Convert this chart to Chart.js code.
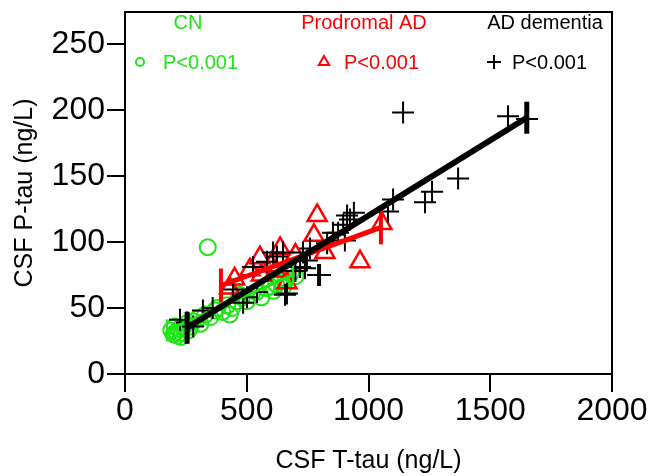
<!DOCTYPE html>
<html>
<head>
<meta charset="utf-8">
<script src="https://cdn.jsdelivr.net/npm/chart.js@4.4.1/dist/chart.umd.min.js"></script>
<style>
    html, body { margin: 0; padding: 0; background: #ffffff; }
    #wrap { width: 654px; height: 476px; }
</style>
</head>
<body>
<div id="wrap"><canvas id="chart" width="654" height="476"></canvas></div>
<script>
// group names and p values shown in the top legend
const groupNames = ['CN', 'Prodromal AD', 'AD dementia'];
const pLabels = ['P<0.001', 'P<0.001', 'P<0.001'];
const groupColors = ['rgb(30,230,20)', '#ff0000', '#000000'];

const xTicks = [0, 500, 1000, 1500, 2000];
const yTicks = [0, 50, 100, 150, 200, 250];

// CN (circles): T-tau, P-tau
const cnTtau = [190, 200, 205, 210, 215, 220, 230, 240, 250, 260, 270, 280, 300, 310, 330, 350, 370, 380, 400, 420,
    440, 460, 480, 500, 520, 540, 560, 580, 600, 620, 640, 660, 680, 700, 340, 430, 470, 610, 650, 230];
const cnPtau = [33, 30, 36, 32, 29, 34, 31, 35, 38, 33, 36, 40, 42, 38, 45, 43, 48, 50, 47, 52,
    50, 55, 58, 55, 60, 62, 58, 65, 66, 68, 70, 72, 76, 74, 96, 45, 60, 63, 66, 28];

// Prodromal AD (triangles)
const proTtau = [789, 776, 637, 554, 821, 965, 1055, 665, 513, 600, 450, 700, 430, 560, 620];
const proPtau = [120, 105, 95, 88, 92, 85, 114, 69, 79, 82, 72, 90, 65, 75, 78];

// AD dementia (crosses)
const adTtau = [255, 226, 280, 320, 360, 444, 485, 501, 542, 526, 583, 608, 624, 649, 657, 665, 700, 719, 731, 739,
    747, 760, 793, 801, 830, 854, 875, 896, 903, 912, 924, 940, 1080, 1101, 1142, 1232, 1261, 1368, 1573, 1651];
const adPtau = [39, 41, 36, 48, 50, 64, 54, 58, 62, 81, 85, 92, 89, 92, 60, 61, 78, 81, 92, 80,
    86, 95, 75, 75, 99, 107, 107, 113, 101, 120, 117, 122, 123, 132, 198, 130, 138, 148, 195, 193];

// regression lines (start, end)
const cnFitX = [172, 690];
const cnFitY = [33, 75];
const proFitX = [394, 1051];
const proFitY = [67, 111];
const adFitX = [255, 1650];
const adFitY = [35, 194];

function toPoints(xs, ys) {
    return xs.map((x, i) => ({ x: x, y: ys[i] }));
}

function fitLine(xs, ys, color, width, barLen) {
    return {
        type: 'line',
        data: toPoints(xs, ys),
        borderColor: color,
        borderWidth: width,
        pointStyle: 'line',
        rotation: 90,
        pointRadius: barLen,
        pointBorderColor: color,
        pointBorderWidth: width - 1,
        showLine: true,
        fill: false
    };
}

// box around the plot + legend text
const framePlugin = {
    id: 'frame',
    afterDraw(chart) {
        const ctx = chart.ctx;
        const a = chart.chartArea;
        ctx.save();
        ctx.strokeStyle = '#000';
        ctx.lineWidth = 2;
        ctx.strokeRect(a.left, a.top, a.right - a.left, a.bottom - a.top);

        const nameX = [188, 364, 545];
        const markX = [140, 324, 494];
        const pX = [163, 344, 512];
        const styles = ['circle', 'triangle', 'cross'];
        const radii = [4, 6, 7];
        ctx.font = '20px "Liberation Sans", Arial, sans-serif';
        ctx.textBaseline = 'middle';
        for (let i = 0; i < groupNames.length; i++) {
            ctx.fillStyle = groupColors[i];
            ctx.textAlign = 'center';
            ctx.fillText(groupNames[i], nameX[i], 23);
            ctx.textAlign = 'left';
            ctx.fillText(pLabels[i], pX[i], 63);
            ctx.strokeStyle = groupColors[i];
            ctx.fillStyle = 'rgba(0,0,0,0)';
            ctx.lineWidth = 2;
            Chart.helpers.drawPoint(ctx, { pointStyle: styles[i], radius: radii[i], rotation: 0, borderWidth: 2 }, markX[i], 62);
        }
        ctx.restore();
    }
};

const tickFont = { family: '"Liberation Sans", Arial, sans-serif', size: 32 };
const titleFont = { family: '"Liberation Sans", Arial, sans-serif', size: 25 };

new Chart(document.getElementById('chart'), {
    type: 'scatter',
    data: {
        datasets: [
            fitLine(adFitX, adFitY, '#000000', 6, 16),
            fitLine(proFitX, proFitY, '#ff0000', 5, 17),
            fitLine(cnFitX, cnFitY, groupColors[0], 3, 11),
            {
                data: toPoints(adTtau, adPtau),
                pointStyle: 'cross',
                pointRadius: 11,
                borderColor: '#000000',
                borderWidth: 2
            },
            {
                data: toPoints(proTtau, proPtau),
                pointStyle: 'triangle',
                pointRadius: 11,
                borderColor: '#ff0000',
                backgroundColor: 'rgba(0,0,0,0)',
                borderWidth: 2.5
            },
            {
                data: toPoints(cnTtau, cnPtau),
                pointStyle: 'circle',
                pointRadius: 8,
                borderColor: groupColors[0],
                backgroundColor: 'rgba(0,0,0,0)',
                borderWidth: 2
            }
        ]
    },
    options: {
        responsive: false,
        animation: false,
        events: [],
        layout: { autoPadding: false, padding: { top: 12, right: 42, left: 0, bottom: 0 } },
        plugins: {
            legend: { display: false },
            tooltip: { enabled: false }
        },
        scales: {
            x: {
                type: 'linear',
                min: 0,
                max: 2000,
                afterBuildTicks: (scale) => { scale.ticks = xTicks.map(v => ({ value: v })); },
                afterFit: (scale) => { scale.height = 102; scale.paddingLeft = 0; scale.paddingRight = 0; },
                grid: { drawOnChartArea: false, tickLength: 18, color: '#000', lineWidth: 2 },
                border: { display: true, color: '#000', width: 2 },
                ticks: { color: '#000', font: tickFont, padding: 0, maxRotation: 0, callback: (v) => String(v) },
                title: { display: true, text: 'CSF T-tau (ng/L)', color: '#000', font: titleFont, padding: { top: 0, bottom: 0 } }
            },
            y: {
                type: 'linear',
                min: 0,
                max: 274,
                afterBuildTicks: (scale) => { scale.ticks = yTicks.map(v => ({ value: v })); },
                afterFit: (scale) => { scale.width = 125; scale.paddingTop = 0; scale.paddingBottom = 0; },
                grid: { drawOnChartArea: false, tickLength: 18, color: '#000', lineWidth: 2 },
                border: { display: true, color: '#000', width: 2 },
                ticks: { color: '#000', font: tickFont, padding: 2, callback: (v) => String(v) },
                title: { display: true, text: 'CSF P-tau (ng/L)', color: '#000', font: titleFont, padding: { top: 10, bottom: 0 } }
            }
        }
    },
    plugins: [framePlugin]
});
</script>
</body>
</html>
